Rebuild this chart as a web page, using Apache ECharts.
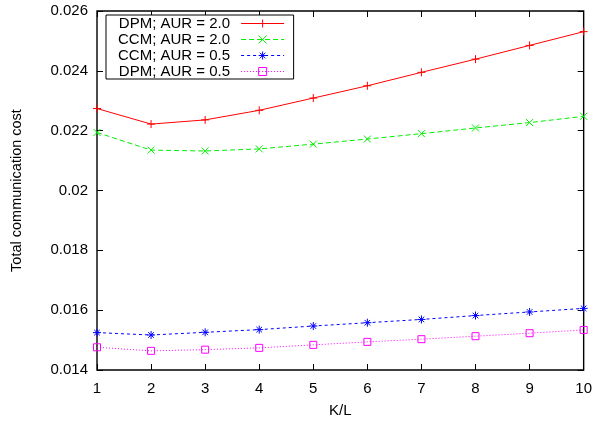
<!DOCTYPE html>
<html><head><meta charset="utf-8">
<script src="https://cdn.jsdelivr.net/npm/echarts@6/dist/echarts.min.js"></script>
<style>html,body{margin:0;padding:0;background:#fff}#c{width:595px;height:424px}</style>
</head><body><div id="c"></div>
<script>
var kl = [1,2,3,4,5,6,7,8,9,10];
var dpm20 = [0.02274,0.02222,0.02236,0.02268,0.02309,0.02350,0.02395,0.02439,0.02485,0.02531];
var ccm20 = [0.02194,0.02135,0.02132,0.02139,0.02155,0.02172,0.02190,0.02209,0.02227,0.02248];
var ccm05 = [0.01525,0.01517,0.01526,0.01535,0.01547,0.01558,0.01569,0.01582,0.01594,0.01606];
var dpm05 = [0.01476,0.01464,0.01468,0.01474,0.01484,0.01494,0.01503,0.01513,0.01523,0.01534];
var names = ['DPM; AUR = 2.0','CCM; AUR = 2.0','CCM; AUR = 0.5','DPM; AUR = 0.5'];
var yTicks = [0.014,0.016,0.018,0.02,0.022,0.024,0.026];

var FONT = 'Liberation Sans';
function pairs(v){ return kl.map(function(k,i){return [k,v[i]];}); }
var PLUS = 'path://M0,5L10,5M5,0L5,10';
var CROSS = 'path://M0,0L10,10M10,0L0,10';
var STAR = 'path://M0,5L10,5M5,0L5,10M1.5,1.5L8.5,8.5M8.5,1.5L1.5,8.5';
var SQ = 'path://M0,0L10,0L10,10L0,10Z';
function ser(name, data, color, symbol, size, dash){
  return {
    name: name, type: 'line', data: pairs(data),
    symbol: symbol, symbolSize: size, showAllSymbol: true,
    itemStyle: {color: 'rgba(0,0,0,0)', borderColor: color, borderWidth: 1},
    lineStyle: {color: color, width: 1, type: dash},
    emphasis: {disabled: true}, animation: false
  };
}
var chart = echarts.init(document.getElementById('c'), null, {renderer: 'canvas'});
var axisCommon = {
  axisLine: {show: false},
  splitLine: {show: false},
  axisTick: {show: true, inside: true, length: 6, lineStyle: {color: '#000'}}
};
chart.setOption({
  animation: false,
  grid: {left: 97, right: 10, top: 11, bottom: 54, show: true, borderColor: '#000', borderWidth: 1.4, backgroundColor: 'transparent'},
  legend: {
    orient: 'vertical', left: 106, top: 15, align: 'right',
    itemWidth: 43, itemHeight: 10, itemGap: 1,
    padding: [1, 9, 0, 12],
    borderColor: '#000', borderWidth: 1,
    backgroundColor: '#fff',
    lineStyle: {width: 1},
    itemStyle: {borderWidth: 1},
    textStyle: {fontFamily: FONT, fontSize: 15, lineHeight: 14, color: '#000', padding: [0, 6, 0, 0]},
    data: names
  },
  xAxis: [
    Object.assign({type: 'value', min: 1, max: 10, interval: 1, position: 'bottom',
      name: 'K/L', nameLocation: 'middle', nameGap: 33,
      nameTextStyle: {fontFamily: FONT, fontSize: 15, color: '#000'},
      axisLabel: {fontFamily: FONT, fontSize: 15, color: '#000', margin: 11}}, axisCommon),
    Object.assign({type: 'value', min: 1, max: 10, interval: 1, position: 'top',
      axisLabel: {show: false}}, axisCommon)
  ],
  yAxis: [
    Object.assign({type: 'value', min: yTicks[0], max: yTicks[yTicks.length-1], interval: 0.002, position: 'left',
      name: 'Total communication cost', nameLocation: 'middle', nameGap: 73,
      nameTextStyle: {fontFamily: FONT, fontSize: 14.5, color: '#000'},
      axisLabel: {fontFamily: FONT, fontSize: 15, color: '#000', margin: 9,
        formatter: function(v){ return String(parseFloat(v.toFixed(3))); }}}, axisCommon),
    Object.assign({type: 'value', min: yTicks[0], max: yTicks[yTicks.length-1], interval: 0.002, position: 'right',
      axisLabel: {show: false}}, axisCommon)
  ],
  series: [
    ser(names[0], dpm20, '#ff0000', PLUS, 8, 'solid'),
    ser(names[1], ccm20, '#00ee00', CROSS, 7, [5, 3]),
    ser(names[2], ccm05, '#0000ff', STAR, 8, [3, 3]),
    ser(names[3], dpm05, '#ff00ff', SQ, 7, [1, 2])
  ]
});
</script></body></html>
